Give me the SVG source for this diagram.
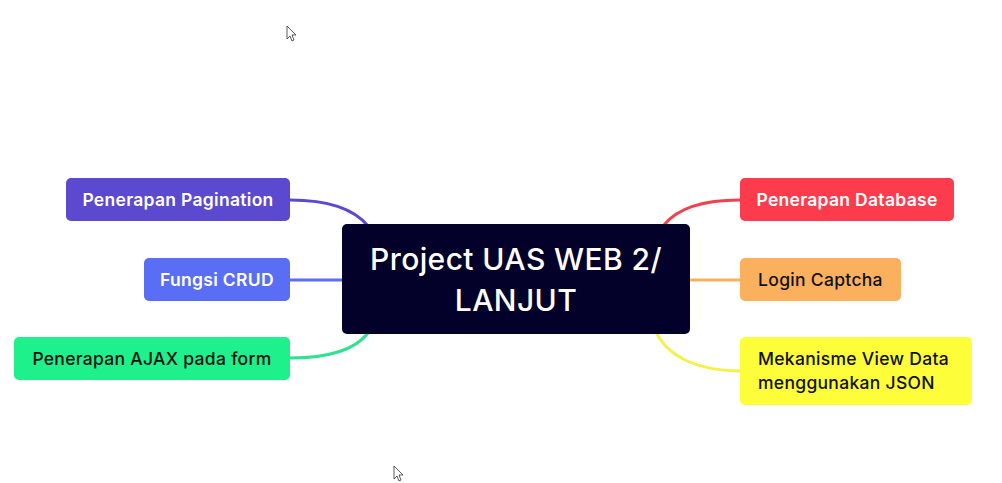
<svg xmlns="http://www.w3.org/2000/svg" width="1002" height="483" viewBox="0 0 1002 483">
<style>
.t{font-family:Inter,"Noto Sans",sans-serif;font-size:17.5px;font-weight:600;letter-spacing:0.3px}
.w{fill:#ffffff}
.b{fill:#111111;font-weight:500}
.c{fill:none;stroke-width:3;stroke-linecap:round}
.main{font-family:Inter,"Noto Sans",sans-serif;font-size:30px;font-weight:500;fill:#ffffff;letter-spacing:0.4px}
</style>
<rect width="1002" height="483" fill="#ffffff"/>
<g id="connectors">
<path class="c" d="M290 200 C330 200 355 210 368 226" stroke="#5b49d0"/>
<path class="c" d="M290 280 L342 280" stroke="#5a6ef5"/>
<path class="c" d="M290 358 C330 358 355 350 368 333" stroke="#2fe291"/>
<path class="c" d="M740 200 C700 200 676 210 664 225" stroke="#f0414f"/>
<path class="c" d="M690 280 L740 280" stroke="#fbb05e"/>
<path class="c" d="M740 371 C700 371 670 358 657 334" stroke="#f5f04a"/>
</g>
<g id="center">
<rect x="342" y="224" width="348" height="110" rx="5" fill="#03002a"/>
<text class="main" x="516" y="270" text-anchor="middle">Project UAS WEB 2/</text>
<text class="main" x="516" y="311" text-anchor="middle">LANJUT</text>
</g>
<g id="pagination">
<rect x="66" y="178" width="224" height="43" rx="5" fill="#5b49d0"/>
<text class="t w" x="178" y="206" text-anchor="middle">Penerapan Pagination</text>
</g>
<g id="crud">
<rect x="144" y="258" width="146" height="43" rx="5" fill="#5a6ef5"/>
<text class="t w" x="217" y="286" text-anchor="middle">Fungsi CRUD</text>
</g>
<g id="ajax">
<rect x="14" y="337" width="276" height="43" rx="5" fill="#1ef08c"/>
<text class="t b" x="152" y="365" text-anchor="middle">Penerapan AJAX pada form</text>
</g>
<g id="database">
<rect x="740" y="178" width="214" height="43" rx="5" fill="#fc3c4c"/>
<text class="t w" x="847" y="206" text-anchor="middle">Penerapan Database</text>
</g>
<g id="captcha">
<rect x="740" y="258" width="161" height="43" rx="5" fill="#fbb05e"/>
<text class="t b" x="820.5" y="286" text-anchor="middle">Login Captcha</text>
</g>
<g id="json">
<rect x="740" y="337" width="232" height="68" rx="5" fill="#fdfd3a"/>
<text class="t b" x="758" y="365">Mekanisme View Data</text>
<text class="t b" x="758" y="389">menggunakan JSON</text>
</g>
<path d="M287 26 L287 39 L290 36 L292 41 L294 40 L292 35 L296 35 Z" fill="#ffffff" stroke="#333333" stroke-width="0.8"/>
<path d="M394 466 L394 479 L397 476 L399 481 L401 480 L399 475 L403 475 Z" fill="#ffffff" stroke="#333333" stroke-width="0.8"/>
</svg>
